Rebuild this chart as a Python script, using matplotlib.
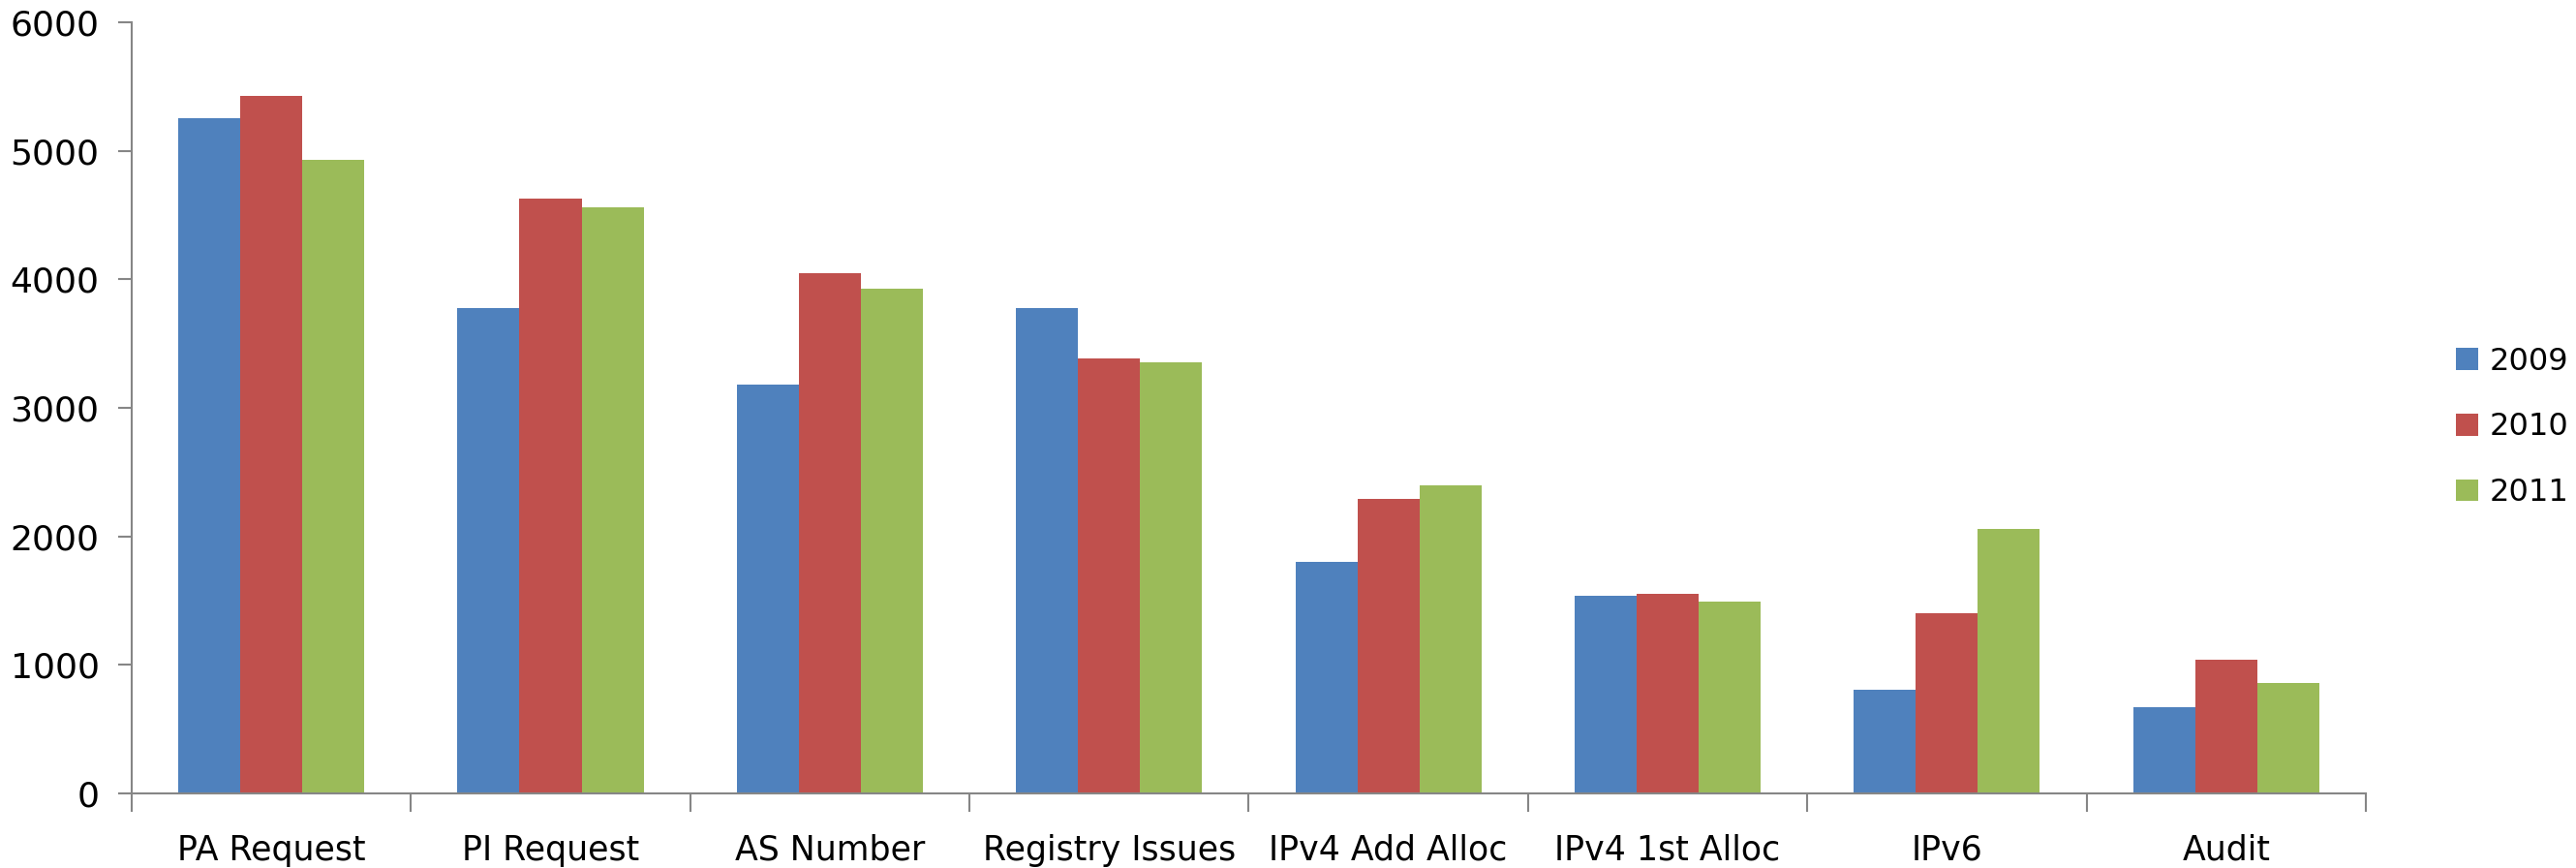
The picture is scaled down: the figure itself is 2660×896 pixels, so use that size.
import numpy as np
import matplotlib
matplotlib.use('Agg')
import matplotlib.pyplot as plt

categories = ['PA Request', 'PI Request', 'AS Number', 'Registry Issues',
              'IPv4 Add Alloc', 'IPv4 1st Alloc', 'IPv6', 'Audit']
years = ['2009', '2010', '2011']
v2009 = [5255, 3775, 3180, 3775, 1805, 1540, 810, 670]
v2010 = [5425, 4630, 4050, 3385, 2290, 1550, 1400, 1040]
v2011 = [4930, 4560, 3930, 3355, 2400, 1490, 2060, 860]
yticks = [0, 1000, 2000, 3000, 4000, 5000, 6000]

colors = ['#4f81bd', '#c0504d', '#9bbb59']
AXIS = '#868686'

fig = plt.figure(figsize=(26.6, 8.96), dpi=100, facecolor='white')
ax = fig.add_axes([0.0511, 0.0859, 0.8673, 0.8884])

x = np.arange(len(categories))
w = 0.222
for i, (vals, c, lab) in enumerate(zip([v2009, v2010, v2011], colors, years)):
    ax.bar(x + (i - 1) * w, vals, width=w, color=c, label=lab,
           edgecolor='none', zorder=2)

ax.set_xlim(-0.5, len(categories) - 0.5)
ax.set_ylim(0, 6000)
ax.set_yticks(yticks)
ax.set_yticklabels([str(t) for t in yticks], fontsize=26, family='DejaVu Sans')
ax.set_xticks(x)
ax.set_xticklabels(categories, fontsize=25, family='DejaVu Sans')
ax.set_xticks(np.arange(len(categories) + 1) - 0.5, minor=True)
ax.tick_params(axis='x', which='major', length=0, pad=30)
ax.tick_params(axis='x', which='minor', length=14, width=1.5, color=AXIS)
ax.tick_params(axis='y', length=10, width=1.5, color=AXIS, pad=14)

for s in ['top', 'right']:
    ax.spines[s].set_visible(False)
for s in ['left', 'bottom']:
    ax.spines[s].set_color(AXIS)
    ax.spines[s].set_linewidth(1.5)

leg = fig.legend(loc='center left', bbox_to_anchor=(0.9475, 0.508), frameon=False,
                 borderpad=0, handlelength=0.72, handleheight=0.72, handletextpad=0.35,
                 labelspacing=1.15, prop={'family': 'DejaVu Sans', 'size': 23})

fig.savefig('out.png', dpi=100, facecolor='white')
